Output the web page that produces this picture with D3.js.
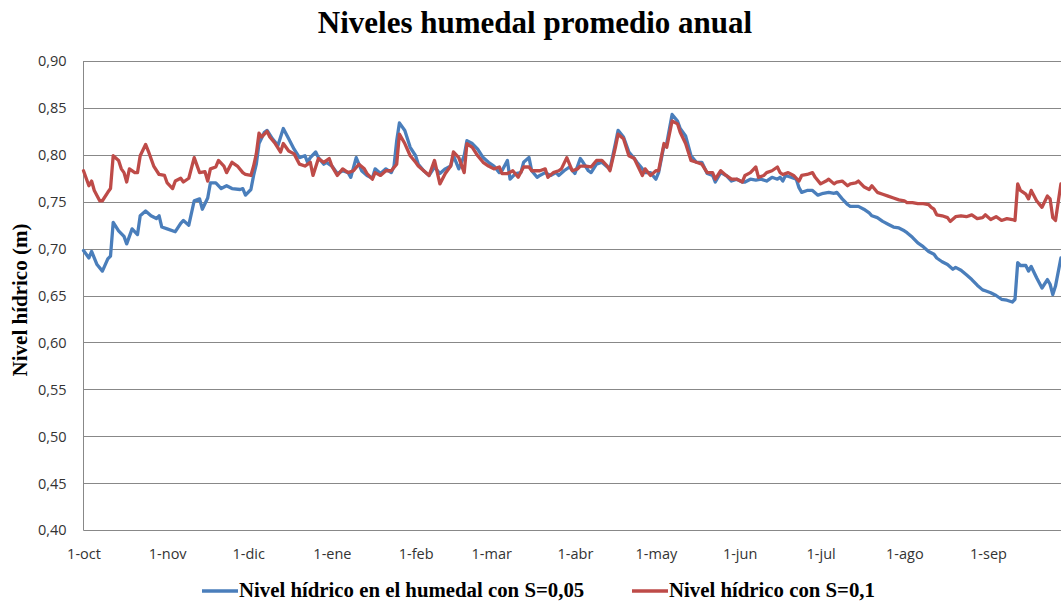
<!DOCTYPE html>
<html lang="es">
<head>
<meta charset="utf-8">
<title>Niveles humedal promedio anual</title>
<script src="https://cdn.jsdelivr.net/npm/d3@7/dist/d3.min.js"></script>
<style>
  html, body { margin: 0; padding: 0; background: #fff; }
  svg { display: block; }
</style>
</head>
<body>
<svg id="chart" width="1061" height="603"></svg>
<script>
// Eje temporal: días desde el 1 de octubre (año hidrológico)
const mesesInicio = [0, 31, 61, 92, 123, 151, 182, 212, 243, 273, 304, 335];
const mesesEtiquetas = ["1-oct", "1-nov", "1-dic", "1-ene", "1-feb", "1-mar",
                        "1-abr", "1-may", "1-jun", "1-jul", "1-ago", "1-sep"];

// Eje de niveles (m)
const nivelesTicks = [0.40, 0.45, 0.50, 0.55, 0.60, 0.65, 0.70, 0.75, 0.80, 0.85, 0.90];

// Serie S=0,05
const diasS005 = [0,2,3,5,7,9,10,11,13,15,16,18,20,21,23,25,27,28,29,31,34,36,37,39,41,43,44,46,47,49,
  51,53,55,58,59,60,62,63,64,65,67,68,70,72,74,76,78,80,82,83,84,86,87,89,90,92,94,96,98,99,
  101,103,105,107,108,110,112,114,115,116,117,119,121,123,124,126,128,130,132,134,136,137,139,141,142,144,146,148,150,152,
  154,155,157,158,160,162,163,165,166,168,169,171,173,175,176,178,180,182,184,185,187,188,190,192,194,195,197,198,200,202,
  204,205,207,208,210,212,213,215,216,218,220,221,223,225,227,229,231,233,234,236,238,240,242,244,245,247,249,251,253,255,
  257,258,259,260,262,264,265,266,268,270,272,274,276,278,279,281,283,284,287,289,291,292,294,296,298,300,302,304,305,307,
  309,311,313,315,316,318,320,322,323,325,327,329,331,333,334,336,338,340,342,344,345,346,347,349,350,351,353,355,357,358,
  359,360,362];
const nivelS005 = [.698,.690,.697,.683,.676,.689,.692,.728,.719,.713,.705,.721,.715,.735,.740,.735,.732,.735,.723,.721,.718,.727,.730,.725,.751,.753,.742,.754,.770,.770,
  .764,.767,.764,.763,.764,.757,.763,.778,.790,.812,.824,.826,.817,.810,.828,.817,.806,.797,.799,.792,.797,.803,.797,.790,.792,.788,.780,.783,.781,.776,
  .797,.783,.778,.775,.785,.780,.785,.781,.788,.815,.834,.826,.808,.799,.790,.783,.778,.787,.780,.785,.788,.799,.785,.799,.815,.812,.806,.797,.792,.788,
  .781,.783,.794,.774,.780,.781,.792,.797,.783,.776,.778,.781,.778,.781,.778,.783,.787,.780,.796,.792,.783,.781,.790,.792,.787,.785,.812,.826,.819,.803,
  .796,.792,.785,.781,.781,.774,.781,.810,.812,.843,.836,.828,.820,.799,.792,.792,.780,.778,.771,.781,.778,.772,.774,.771,.771,.774,.773,.774,.772,.776,
  .774,.776,.772,.778,.776,.774,.765,.760,.762,.762,.757,.759,.760,.759,.760,.753,.747,.745,.745,.742,.738,.735,.733,.729,.726,.723,.722,.719,.717,.712,
  .706,.702,.697,.694,.690,.686,.683,.678,.680,.677,.672,.667,.661,.656,.655,.653,.650,.646,.645,.643,.646,.685,.682,.682,.676,.681,.669,.658,.667,.662,
  .651,.660,.690];

// Serie S=0,1
const diasS01 = [0,2,3,4,6,7,9,10,11,13,14,15,16,17,19,20,21,23,24,26,28,30,31,33,34,36,37,39,41,43,
  45,46,47,49,50,52,53,55,57,59,60,62,63,64,65,66,68,69,71,73,74,76,78,80,82,84,85,87,89,91,
  92,94,96,98,100,102,104,105,107,108,110,112,114,116,117,119,121,123,124,126,128,130,132,134,136,137,139,141,142,144,
  146,148,150,152,154,155,157,159,161,163,165,166,169,171,172,174,176,177,179,181,183,184,186,188,190,192,194,195,197,198,
  200,202,204,205,207,208,210,212,213,215,216,218,220,221,223,225,227,229,231,233,234,236,238,240,242,244,245,247,249,250,
  252,253,255,257,258,259,261,263,265,266,268,270,271,273,275,276,278,279,281,283,284,286,287,289,291,292,294,296,298,300,
  302,304,305,307,309,311,313,314,315,316,318,320,321,323,325,327,329,331,333,334,336,338,340,342,344,345,346,347,349,350,
  351,353,355,357,358,359,360,362];
const nivelS01 = [.783,.767,.772,.762,.751,.751,.760,.764,.799,.794,.785,.781,.771,.785,.781,.781,.799,.811,.804,.788,.779,.778,.770,.764,.772,.775,.771,.775,.797,.781,
  .782,.772,.785,.787,.794,.788,.781,.792,.788,.781,.779,.778,.788,.801,.823,.819,.825,.819,.812,.803,.812,.804,.801,.790,.788,.792,.778,.796,.792,.796,
  .788,.778,.785,.781,.783,.790,.785,.780,.774,.781,.778,.783,.783,.790,.822,.812,.799,.792,.788,.783,.778,.794,.769,.780,.788,.803,.797,.781,.812,.808,
  .799,.792,.788,.785,.787,.780,.780,.783,.776,.787,.787,.783,.783,.785,.776,.781,.783,.785,.797,.783,.785,.788,.788,.787,.794,.794,.788,.783,.808,.822,
  .817,.799,.796,.790,.778,.785,.778,.783,.783,.812,.808,.836,.833,.824,.812,.794,.792,.790,.781,.781,.774,.783,.778,.774,.774,.771,.778,.781,.787,.776,
  .778,.781,.783,.787,.781,.779,.781,.778,.772,.778,.779,.781,.776,.769,.772,.774,.769,.771,.772,.767,.769,.770,.772,.766,.763,.767,.760,.758,.756,.754,
  .752,.751,.749,.749,.748,.748,.747,.744,.742,.736,.735,.733,.729,.734,.735,.734,.736,.732,.733,.736,.731,.734,.730,.732,.731,.730,.769,.762,.758,.753,
  .762,.751,.744,.756,.753,.733,.730,.769];

const colorS005 = "#4A7EBB";
const colorS01 = "#BE4B48";

const svg = d3.select("#chart");
const W = 1061, H = 603;
svg.append("rect").attr("width", W).attr("height", H).attr("fill", "#fff");

// Área de trazado
const plotLeft = 83.5, plotTop = 61, plotBottom = 530, pxPorDia = 2.7;
const x = d3.scaleLinear().domain([0, 365]).range([plotLeft, plotLeft + 365 * pxPorDia]);
const y = d3.scaleLinear().domain([0.40, 0.90]).range([plotBottom, plotTop]);

// Líneas de división horizontales
svg.append("g")
  .selectAll("line")
  .data(nivelesTicks.slice(1))
  .join("line")
  .attr("x1", plotLeft).attr("x2", W)
  .attr("y1", d => Math.round(y(d)) + 0.5).attr("y2", d => Math.round(y(d)) + 0.5)
  .attr("stroke", "#888").attr("stroke-width", 1);

const fmt = d => d.toFixed(2).replace(".", ",");
const tickFont = "'Open Sans', 'Liberation Sans', sans-serif";

// Eje vertical
const gy = svg.append("g")
  .attr("transform", `translate(${plotLeft},0)`)
  .call(d3.axisLeft(y).tickValues(nivelesTicks).tickSize(0).tickPadding(17).tickFormat(fmt));
gy.select(".domain").attr("stroke", "#888").attr("d", `M0,${plotTop}V${plotBottom + 0.5}`);
gy.selectAll("text")
  .attr("font-family", tickFont).attr("font-size", 14.5).attr("fill", "#333").attr("dy", "0.34em");

// Eje horizontal
const gx = svg.append("g")
  .attr("transform", `translate(0,${plotBottom + 0.5})`)
  .call(d3.axisBottom(x).tickValues(mesesInicio).tickSize(0).tickPadding(18)
    .tickFormat((d, i) => mesesEtiquetas[i]));
gx.select(".domain").attr("stroke", "#888").attr("d", `M${plotLeft},0H${W}`);
gx.selectAll("text")
  .attr("font-family", tickFont).attr("font-size", 14.5).attr("fill", "#333");

// Series
const linea = d3.line().x(d => x(d[0])).y(d => y(d[1])).curve(d3.curveLinear);
const serie = (dias, niveles) => dias.map((d, i) => [d, niveles[i]]);

svg.append("path")
  .datum(serie(diasS005, nivelS005))
  .attr("d", linea)
  .attr("fill", "none").attr("stroke", colorS005).attr("stroke-width", 3.3)
  .attr("stroke-linejoin", "round").attr("stroke-linecap", "round");

svg.append("path")
  .datum(serie(diasS01, nivelS01))
  .attr("d", linea)
  .attr("fill", "none").attr("stroke", colorS01).attr("stroke-width", 3.3)
  .attr("stroke-linejoin", "round").attr("stroke-linecap", "round");

// Título
const serif = "'Liberation Serif', 'Times New Roman', serif";
svg.append("text")
  .attr("x", 535).attr("y", 33)
  .attr("text-anchor", "middle")
  .attr("font-family", serif).attr("font-weight", "bold").attr("font-size", 31)
  .attr("fill", "#000")
  .text("Niveles humedal promedio anual");

// Título del eje vertical
svg.append("text")
  .attr("transform", "translate(27,300) rotate(-90)")
  .attr("text-anchor", "middle")
  .attr("font-family", serif).attr("font-weight", "bold").attr("font-size", 21)
  .attr("fill", "#000")
  .text("Nivel hídrico (m)");

// Leyenda
const leyenda = [
  { texto: "Nivel hídrico en el humedal con S=0,05", color: colorS005, x: 202 },
  { texto: "Nivel hídrico con S=0,1", color: colorS01, x: 632 }
];
const gl = svg.append("g");
leyenda.forEach(l => {
  gl.append("line")
    .attr("x1", l.x).attr("x2", l.x + 36)
    .attr("y1", 591).attr("y2", 591)
    .attr("stroke", l.color).attr("stroke-width", 3.3);
  gl.append("text")
    .attr("x", l.x + 37).attr("y", 597)
    .attr("font-family", serif).attr("font-weight", "bold").attr("font-size", 20.8)
    .attr("fill", "#000")
    .text(l.texto);
});
</script>
</body>
</html>
